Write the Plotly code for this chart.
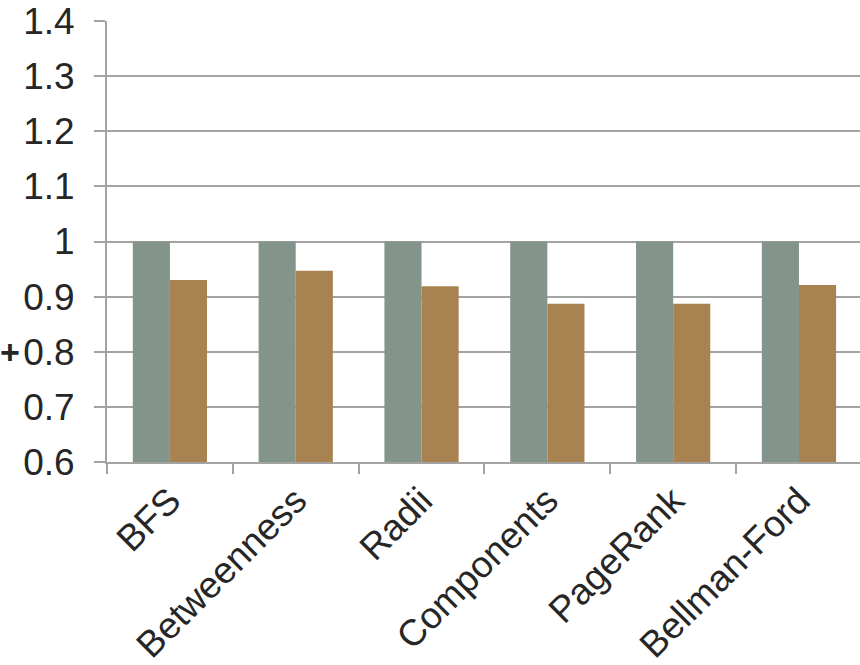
import plotly.graph_objects as go

# Benchmarks and normalised run times
categories = ["BFS", "Betweenness", "Radii", "Components", "PageRank", "Bellman-Ford"]
baseline = [1.0, 1.0, 1.0, 1.0, 1.0, 1.0]
optimized = [0.930, 0.947, 0.919, 0.887, 0.887, 0.921]

y_tick_vals = [0.6, 0.7, 0.8, 0.9, 1.0, 1.1, 1.2, 1.3, 1.4]
y_tick_text = ["0.6", "0.7", "0.8", "0.9", "1", "1.1", "1.2", "1.3", "1.4"]

FONT = "Liberation Sans, Arial, sans-serif"
TEXT = "#262626"
GRID = "#a3a3a3"

fig = go.Figure()
fig.add_trace(go.Bar(
    x=categories, y=baseline, name="Baseline",
    marker=dict(color="#83958a", line=dict(width=0)),
))
fig.add_trace(go.Bar(
    x=categories, y=optimized, name="Optimized",
    marker=dict(color="#a88351", line=dict(width=0)),
))

fig.update_layout(
    width=860, height=665,
    margin=dict(l=107, r=0, t=21, b=203, pad=0),
    paper_bgcolor="white", plot_bgcolor="white",
    barmode="group", bargap=0.41, bargroupgap=0.0,
    showlegend=False,
    font=dict(family=FONT, size=37, color=TEXT),
)

fig.update_xaxes(
    type="category",
    range=[-0.5, 5.485],
    tickangle=-45,
    tickson="boundaries",
    ticks="outside", ticklen=10, tickwidth=1.5, tickcolor=GRID,
    showline=True, linecolor=GRID, linewidth=2,
    showgrid=False,
    tickfont=dict(family=FONT, size=37, color=TEXT),
)
fig.update_yaxes(
    range=[0.6, 1.4],
    tickvals=y_tick_vals, ticktext=y_tick_text,
    ticks="outside", ticklen=11, tickwidth=1.5, tickcolor=GRID,
    ticklabelstandoff=12,
    showline=True, linecolor=GRID, linewidth=2,
    showgrid=True, gridcolor=GRID, gridwidth=2,
    zeroline=False,
    tickfont=dict(family=FONT, size=37, color=TEXT),
)

# Clipped axis-title glyph at the left edge
fig.add_annotation(
    text="<b>+</b>", xref="paper", yref="y", x=0, y=0.8,
    xanchor="left", xshift=-109, showarrow=False,
    font=dict(family=FONT, size=34, color=TEXT),
)

fig.write_html("out.html")
